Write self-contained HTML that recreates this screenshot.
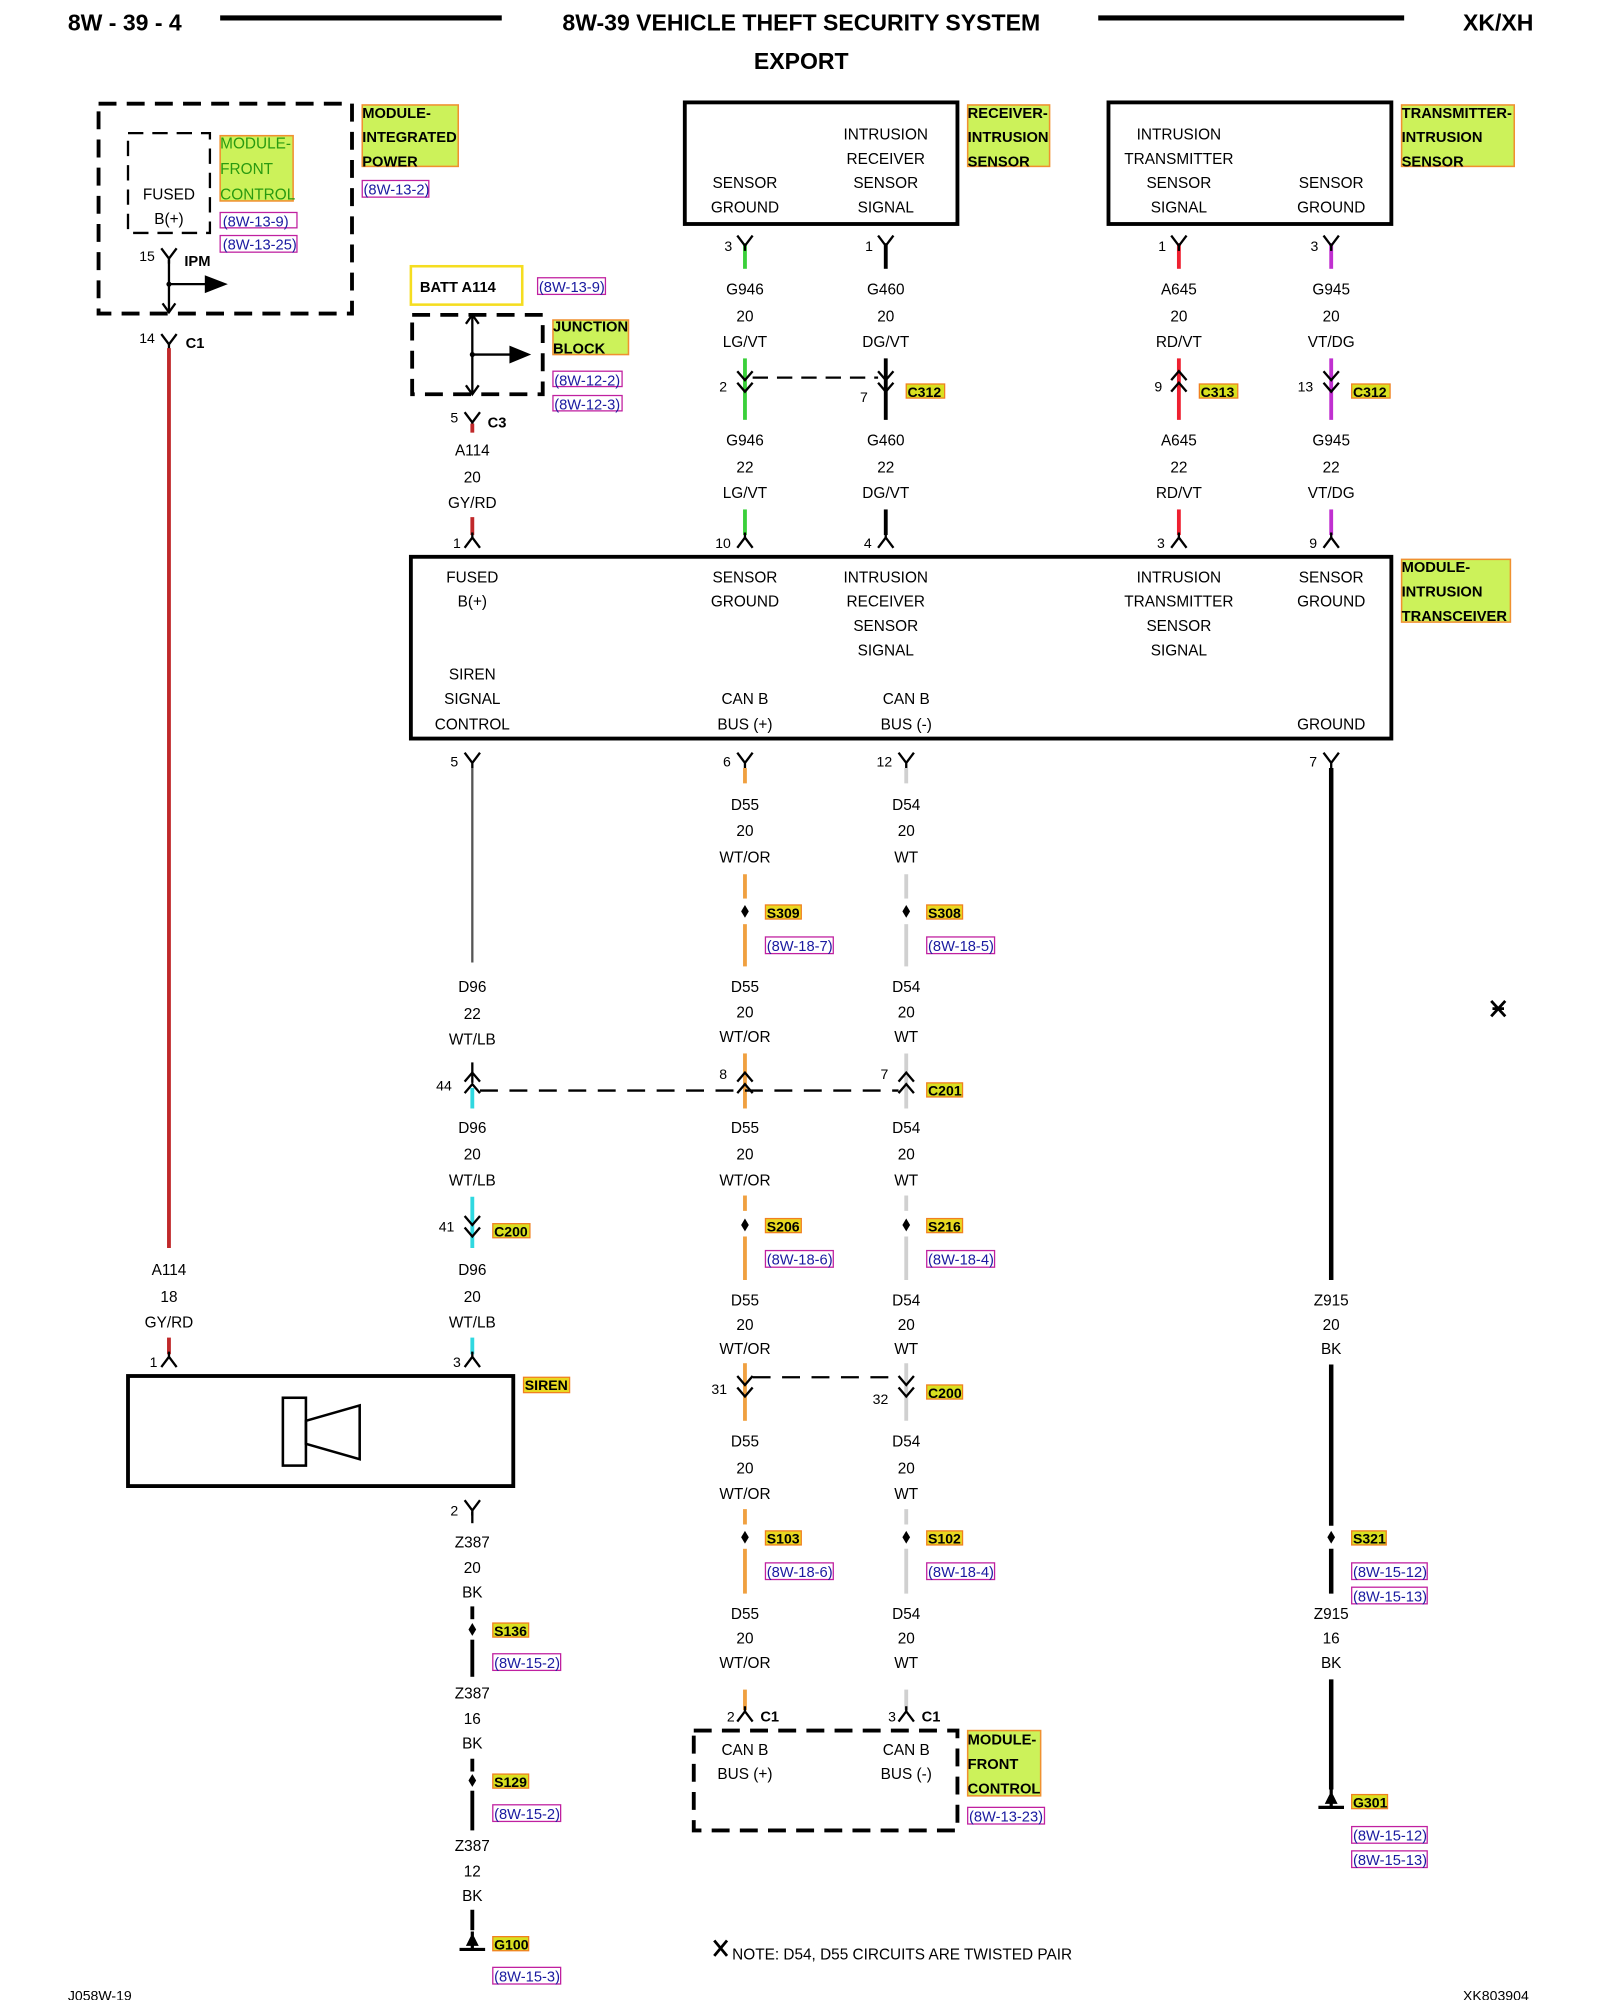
<!DOCTYPE html>
<html><head><meta charset="utf-8"><style>
html,body{margin:0;padding:0;background:#fff}
svg{display:block}
text{font-family:"Liberation Sans",sans-serif;fill:#000}
.t{font-size:12px;text-anchor:middle}
.n{font-size:11px;text-anchor:end}
.h{font-size:18px;font-weight:bold}
.lb{font-size:11.5px;font-weight:bold}
.rf{font-size:11.5px;fill:#1a1aa0}
.tg{font-size:11px;font-weight:bold}
.bx{fill:none;stroke:#000;stroke-width:3}
.ds{fill:none;stroke:#000;stroke-width:3;stroke-dasharray:14 8}
.s{fill:none;stroke:#000;stroke-width:1.8}
</style></head><body>
<svg width="1600" height="2000" viewBox="0 0 1250 1562.5" xmlns="http://www.w3.org/2000/svg">
<defs>
<path id="yT" d="M-6,-9 L0,-1 L6,-9 M0,-1 V3" fill="none" stroke="#000" stroke-width="1.8"/>
<path id="yB" d="M0,-4 V1 M-6,8 L0,0 L6,8" fill="none" stroke="#000" stroke-width="1.8"/>
<path id="cD" d="M-6,-7 L0,0 L6,-7 M-6,2 L0,9 L6,2" fill="none" stroke="#000" stroke-width="1.8"/>
<path id="cU" d="M-6,0 L0,-7 L6,0 M-6,9 L0,2 L6,9" fill="none" stroke="#000" stroke-width="1.8"/>
<path id="sp" d="M0,-5 L3,0 L0,5 L-3,0 Z" fill="#000"/>
<path id="gnd" d="M-10,6 H10 M0,-8 V6 M-3,2 L0,-4 L3,2 Z" fill="#000" stroke="#000" stroke-width="2.5"/>
</defs>

<!-- header -->
<text class="h" x="53" y="24">8W - 39 - 4</text>
<line x1="172" y1="14" x2="392" y2="14" stroke="#000" stroke-width="4"/>
<text class="h" x="626" y="24" text-anchor="middle">8W-39 VEHICLE THEFT SECURITY SYSTEM</text>
<text class="h" x="626" y="54" text-anchor="middle">EXPORT</text>
<line x1="858" y1="14" x2="1097" y2="14" stroke="#000" stroke-width="4"/>
<text class="h" x="1143" y="24">XK/XH</text>

<!-- IPM -->
<rect class="ds" x="77" y="81" width="198" height="164"/>
<rect x="100" y="104" width="64" height="78" fill="none" stroke="#000" stroke-width="1.8" stroke-dasharray="12 7"/>
<text class="t" x="132" y="156">FUSED</text>
<text class="t" x="132" y="175">B(+)</text>
<rect x="172" y="106" width="57" height="51" fill="#ccf25a" stroke="#f09030" stroke-width="1.2"/>
<text class="t" x="172" y="116" style="text-anchor:start;fill:#2a9a10">MODULE-</text>
<text class="t" x="172" y="136" style="text-anchor:start;fill:#2a9a10">FRONT</text>
<text class="t" x="172" y="156" style="text-anchor:start;fill:#2a9a10">CONTROL</text>
<rect x="172" y="166" width="60" height="12" fill="none" stroke="#c020a0"/><text class="rf" x="174" y="177">(8W-13-9)</text>
<rect x="172" y="184" width="60" height="13" fill="none" stroke="#c020a0"/><text class="rf" x="174" y="195">(8W-13-25)</text>
<rect x="283" y="82" width="75" height="48" fill="#ccf25a" stroke="#f09030" stroke-width="1.2"/>
<text class="lb" x="283" y="92">MODULE-</text><text class="lb" x="283" y="111">INTEGRATED</text><text class="lb" x="283" y="130">POWER</text>
<rect x="283" y="141" width="52" height="13" fill="none" stroke="#c020a0"/><text class="rf" x="284" y="152">(8W-13-2)</text>
<use href="#yT" x="132" y="203"/><text class="n" x="121" y="204">15</text>
<text class="lb" x="144" y="208">IPM</text>
<line class="s" x1="132" y1="203" x2="132" y2="244"/>
<path class="s" d="M127,237 L132,244 L137,237"/>
<line class="s" x1="132" y1="222" x2="162" y2="222"/>
<path d="M160,215 L178,222 L160,229 Z"/>
<circle cx="132" cy="222" r="2"/>
<use href="#yT" x="132" y="270"/><text class="n" x="121" y="268">14</text><text class="lb" x="145" y="272">C1</text>
<line x1="132" y1="272" x2="132" y2="975" stroke="#c0282a" stroke-width="3"/>
<text class="t" x="132" y="996">A114</text><text class="t" x="132" y="1017">18</text><text class="t" x="132" y="1037">GY/RD</text>
<line x1="132" y1="1045" x2="132" y2="1058" stroke="#c0282a" stroke-width="3"/>
<use href="#yB" x="132" y="1060"/><text class="n" x="123" y="1068">1</text>

<!-- junction block -->
<rect x="321" y="208" width="87" height="30" fill="none" stroke="#f5dd20" stroke-width="2"/>
<text class="lb" x="328" y="228">BATT A114</text>
<rect x="420" y="217" width="53" height="13" fill="none" stroke="#c020a0"/><text class="rf" x="421" y="228">(8W-13-9)</text>
<rect class="ds" x="322" y="246" width="102" height="62"/>
<line class="s" x1="369" y1="246" x2="369" y2="308"/>
<path class="s" d="M364,253 L369,246 L374,253 M364,301 L369,308 L374,301"/>
<line class="s" x1="369" y1="277" x2="400" y2="277"/>
<path d="M398,270 L415,277 L398,284 Z"/><circle cx="369" cy="277" r="2"/>
<rect x="432" y="250" width="59" height="27" fill="#ccf25a" stroke="#f09030" stroke-width="1.2"/>
<text class="lb" x="432" y="259">JUNCTION</text><text class="lb" x="432" y="276">BLOCK</text>
<rect x="432" y="290" width="54" height="12" fill="none" stroke="#c020a0"/><text class="rf" x="433" y="301">(8W-12-2)</text>
<rect x="432" y="309" width="54" height="12" fill="none" stroke="#c020a0"/><text class="rf" x="433" y="320">(8W-12-3)</text>
<use href="#yT" x="369" y="331"/><line x1="369" y1="331" x2="369" y2="338" stroke="#c0282a" stroke-width="3"/>
<text class="n" x="358" y="330">5</text><text class="lb" x="381" y="334">C3</text>
<text class="t" x="369" y="356">A114</text><text class="t" x="369" y="377">20</text><text class="t" x="369" y="397">GY/RD</text>
<line x1="369" y1="404" x2="369" y2="418" stroke="#c0282a" stroke-width="3"/>
<use href="#yB" x="369" y="420"/><text class="n" x="360" y="428">1</text>

<!-- receiver sensor -->
<rect class="bx" x="535" y="80" width="213" height="95"/>
<text class="t" x="692" y="109">INTRUSION</text><text class="t" x="692" y="128">RECEIVER</text><text class="t" x="692" y="147">SENSOR</text><text class="t" x="692" y="166">SIGNAL</text>
<text class="t" x="582" y="147">SENSOR</text><text class="t" x="582" y="166">GROUND</text>
<rect x="756" y="82" width="64" height="48" fill="#ccf25a" stroke="#f09030" stroke-width="1.2"/>
<text class="lb" x="756" y="92">RECEIVER-</text><text class="lb" x="756" y="111">INTRUSION</text><text class="lb" x="756" y="130">SENSOR</text>
<!-- transmitter -->
<rect class="bx" x="866" y="80" width="221" height="95"/>
<text class="t" x="921" y="109">INTRUSION</text><text class="t" x="921" y="128">TRANSMITTER</text><text class="t" x="921" y="147">SENSOR</text><text class="t" x="921" y="166">SIGNAL</text>
<text class="t" x="1040" y="147">SENSOR</text><text class="t" x="1040" y="166">GROUND</text>
<rect x="1095" y="82" width="88" height="48" fill="#ccf25a" stroke="#f09030" stroke-width="1.2"/>
<text class="lb" x="1095" y="92">TRANSMITTER-</text><text class="lb" x="1095" y="111">INTRUSION</text><text class="lb" x="1095" y="130">SENSOR</text>

<!-- sensor wires -->
<g>
<line x1="582" y1="190" x2="582" y2="210" stroke="#3ad03a" stroke-width="3"/>
<line x1="692" y1="190" x2="692" y2="210" stroke="#000" stroke-width="3"/>
<line x1="921" y1="190" x2="921" y2="210" stroke="#ee2030" stroke-width="3"/>
<line x1="1040" y1="190" x2="1040" y2="210" stroke="#c030d0" stroke-width="3"/>
<use href="#yT" x="582" y="193"/><use href="#yT" x="692" y="193"/><use href="#yT" x="921" y="193"/><use href="#yT" x="1040" y="193"/>
<text class="n" x="572" y="196">3</text><text class="n" x="682" y="196">1</text><text class="n" x="911" y="196">1</text><text class="n" x="1030" y="196">3</text>
<text class="t" x="582" y="230">G946</text><text class="t" x="582" y="251">20</text><text class="t" x="582" y="271">LG/VT</text>
<text class="t" x="692" y="230">G460</text><text class="t" x="692" y="251">20</text><text class="t" x="692" y="271">DG/VT</text>
<text class="t" x="921" y="230">A645</text><text class="t" x="921" y="251">20</text><text class="t" x="921" y="271">RD/VT</text>
<text class="t" x="1040" y="230">G945</text><text class="t" x="1040" y="251">20</text><text class="t" x="1040" y="271">VT/DG</text>
<line x1="582" y1="280" x2="582" y2="328" stroke="#3ad03a" stroke-width="3"/>
<line x1="692" y1="280" x2="692" y2="328" stroke="#000" stroke-width="3"/>
<line x1="921" y1="280" x2="921" y2="328" stroke="#ee2030" stroke-width="3"/>
<line x1="1040" y1="280" x2="1040" y2="328" stroke="#c030d0" stroke-width="3"/>
<use href="#cD" x="582" y="297"/><use href="#cD" x="692" y="297"/><use href="#cU" x="921" y="297"/><use href="#cD" x="1040" y="297"/>
<line x1="588" y1="295" x2="686" y2="295" stroke="#000" stroke-width="1.8" stroke-dasharray="12 7"/>
<text class="n" x="568" y="306">2</text><text class="n" x="678" y="314">7</text><text class="n" x="908" y="306">9</text><text class="n" x="1026" y="306">13</text>
<rect x="708" y="300" width="30" height="11" fill="#d8e020" stroke="#f08020"/><text class="tg" x="709" y="310">C312</text>
<rect x="937" y="300" width="30" height="11" fill="#d8e020" stroke="#f08020"/><text class="tg" x="938" y="310">C313</text>
<rect x="1056" y="300" width="30" height="11" fill="#d8e020" stroke="#f08020"/><text class="tg" x="1057" y="310">C312</text>
<text class="t" x="582" y="348">G946</text><text class="t" x="582" y="369">22</text><text class="t" x="582" y="389">LG/VT</text>
<text class="t" x="692" y="348">G460</text><text class="t" x="692" y="369">22</text><text class="t" x="692" y="389">DG/VT</text>
<text class="t" x="921" y="348">A645</text><text class="t" x="921" y="369">22</text><text class="t" x="921" y="389">RD/VT</text>
<text class="t" x="1040" y="348">G945</text><text class="t" x="1040" y="369">22</text><text class="t" x="1040" y="389">VT/DG</text>
<line x1="582" y1="398" x2="582" y2="418" stroke="#3ad03a" stroke-width="3"/>
<line x1="692" y1="398" x2="692" y2="418" stroke="#000" stroke-width="3"/>
<line x1="921" y1="398" x2="921" y2="418" stroke="#ee2030" stroke-width="3"/>
<line x1="1040" y1="398" x2="1040" y2="418" stroke="#c030d0" stroke-width="3"/>
<use href="#yB" x="582" y="420"/><use href="#yB" x="692" y="420"/><use href="#yB" x="921" y="420"/><use href="#yB" x="1040" y="420"/>
<text class="n" x="571" y="428">10</text><text class="n" x="681" y="428">4</text><text class="n" x="910" y="428">3</text><text class="n" x="1029" y="428">9</text>
</g>

<!-- transceiver -->
<rect class="bx" x="321" y="435" width="766" height="142"/>
<text class="t" x="369" y="455">FUSED</text><text class="t" x="369" y="474">B(+)</text>
<text class="t" x="582" y="455">SENSOR</text><text class="t" x="582" y="474">GROUND</text>
<text class="t" x="692" y="455">INTRUSION</text><text class="t" x="692" y="474">RECEIVER</text><text class="t" x="692" y="493">SENSOR</text><text class="t" x="692" y="512">SIGNAL</text>
<text class="t" x="921" y="455">INTRUSION</text><text class="t" x="921" y="474">TRANSMITTER</text><text class="t" x="921" y="493">SENSOR</text><text class="t" x="921" y="512">SIGNAL</text>
<text class="t" x="1040" y="455">SENSOR</text><text class="t" x="1040" y="474">GROUND</text>
<text class="t" x="369" y="531">SIREN</text><text class="t" x="369" y="550">SIGNAL</text><text class="t" x="369" y="570">CONTROL</text>
<text class="t" x="582" y="550">CAN B</text><text class="t" x="582" y="570">BUS (+)</text>
<text class="t" x="708" y="550">CAN B</text><text class="t" x="708" y="570">BUS (-)</text>
<text class="t" x="1040" y="570">GROUND</text>
<rect x="1095" y="437" width="85" height="49" fill="#ccf25a" stroke="#f09030" stroke-width="1.2"/>
<text class="lb" x="1095" y="447">MODULE-</text><text class="lb" x="1095" y="466">INTRUSION</text><text class="lb" x="1095" y="485">TRANSCEIVER</text>

<!-- lower pins -->
<use href="#yT" x="369" y="597"/><use href="#yT" x="582" y="597"/><use href="#yT" x="708" y="597"/><use href="#yT" x="1040" y="597"/>
<text class="n" x="358" y="599">5</text><text class="n" x="571" y="599">6</text><text class="n" x="697" y="599">12</text><text class="n" x="1029" y="599">7</text>

<!-- siren column -->
<line x1="369" y1="600" x2="369" y2="752" stroke="#555" stroke-width="1.8"/>
<text class="t" x="369" y="775">D96</text><text class="t" x="369" y="796">22</text><text class="t" x="369" y="816">WT/LB</text>
<line x1="369" y1="830" x2="369" y2="846" stroke="#000" stroke-width="1.8"/>
<line x1="369" y1="850" x2="369" y2="866" stroke="#30d8e0" stroke-width="3"/>
<use href="#cU" x="369" y="845"/><text class="n" x="353" y="852">44</text>
<text class="t" x="369" y="885">D96</text><text class="t" x="369" y="906">20</text><text class="t" x="369" y="926">WT/LB</text>
<line x1="369" y1="935" x2="369" y2="975" stroke="#30d8e0" stroke-width="3"/>
<use href="#cD" x="369" y="957"/><text class="n" x="355" y="962">41</text>
<rect x="385" y="956" width="29" height="11" fill="#d8e020" stroke="#f08020"/><text class="tg" x="386" y="966">C200</text>
<text class="t" x="369" y="996">D96</text><text class="t" x="369" y="1017">20</text><text class="t" x="369" y="1037">WT/LB</text>
<line x1="369" y1="1045" x2="369" y2="1058" stroke="#30d8e0" stroke-width="3"/>
<use href="#yB" x="369" y="1060"/><text class="n" x="360" y="1068">3</text>
<rect class="bx" x="100" y="1075" width="301" height="86"/>
<rect x="221" y="1092" width="18" height="53" fill="none" stroke="#000" stroke-width="2"/>
<path d="M239,1110 L281,1098 L281,1140 L239,1128 Z" fill="none" stroke="#000" stroke-width="2"/>
<rect x="409" y="1076" width="36" height="12" fill="#e8d820" stroke="#f08020"/><text class="tg" x="410" y="1086">SIREN</text>
<use href="#yT" x="369" y="1181"/><line class="s" x1="369" y1="1181" x2="369" y2="1190"/><text class="n" x="358" y="1184">2</text>
<text class="t" x="369" y="1209">Z387</text><text class="t" x="369" y="1229">20</text><text class="t" x="369" y="1248">BK</text>
<line x1="369" y1="1255" x2="369" y2="1265" stroke="#000" stroke-width="3"/>
<use href="#sp" x="369" y="1273"/>
<line x1="369" y1="1281" x2="369" y2="1310" stroke="#000" stroke-width="3"/>
<rect x="385" y="1268" width="28" height="11" fill="#d8e020" stroke="#f08020"/><text class="tg" x="386" y="1278">S136</text>
<rect x="385" y="1292" width="53" height="13" fill="none" stroke="#c020a0"/><text class="rf" x="386" y="1303">(8W-15-2)</text>
<text class="t" x="369" y="1327">Z387</text><text class="t" x="369" y="1347">16</text><text class="t" x="369" y="1366">BK</text>
<line x1="369" y1="1374" x2="369" y2="1384" stroke="#000" stroke-width="3"/>
<use href="#sp" x="369" y="1391"/>
<line x1="369" y1="1399" x2="369" y2="1430" stroke="#000" stroke-width="3"/>
<rect x="385" y="1386" width="28" height="11" fill="#d8e020" stroke="#f08020"/><text class="tg" x="386" y="1396">S129</text>
<rect x="385" y="1410" width="53" height="13" fill="none" stroke="#c020a0"/><text class="rf" x="386" y="1421">(8W-15-2)</text>
<text class="t" x="369" y="1446">Z387</text><text class="t" x="369" y="1466">12</text><text class="t" x="369" y="1485">BK</text>
<line x1="369" y1="1492" x2="369" y2="1508" stroke="#000" stroke-width="3"/>
<use href="#gnd" x="369" y="1517"/>
<rect x="385" y="1513" width="28" height="11" fill="#d8e020" stroke="#f08020"/><text class="tg" x="386" y="1523">G100</text>
<rect x="385" y="1537" width="53" height="13" fill="none" stroke="#c020a0"/><text class="rf" x="386" y="1548">(8W-15-3)</text>

<!-- CAN columns -->
<g id="canp">
<line x1="582" y1="600" x2="582" y2="612" stroke="#f0a040" stroke-width="3"/>
<line x1="708" y1="600" x2="708" y2="612" stroke="#d0d0d0" stroke-width="3"/>
<text class="t" x="582" y="633">D55</text><text class="t" x="582" y="653">20</text><text class="t" x="582" y="674">WT/OR</text>
<text class="t" x="708" y="633">D54</text><text class="t" x="708" y="653">20</text><text class="t" x="708" y="674">WT</text>
<line x1="582" y1="683" x2="582" y2="702" stroke="#f0a040" stroke-width="3"/>
<line x1="708" y1="683" x2="708" y2="702" stroke="#d0d0d0" stroke-width="3"/>
<use href="#sp" x="582" y="712"/><use href="#sp" x="708" y="712"/>
<line x1="582" y1="722" x2="582" y2="755" stroke="#f0a040" stroke-width="3"/>
<line x1="708" y1="722" x2="708" y2="755" stroke="#d0d0d0" stroke-width="3"/>
<rect x="598" y="707" width="28" height="11" fill="#e8d820" stroke="#f08020"/><text class="tg" x="599" y="717">S309</text>
<rect x="724" y="707" width="28" height="11" fill="#e8d820" stroke="#f08020"/><text class="tg" x="725" y="717">S308</text>
<rect x="598" y="732" width="53" height="13" fill="none" stroke="#c020a0"/><text class="rf" x="599" y="743">(8W-18-7)</text>
<rect x="724" y="732" width="53" height="13" fill="none" stroke="#c020a0"/><text class="rf" x="725" y="743">(8W-18-5)</text>
<text class="t" x="582" y="775">D55</text><text class="t" x="582" y="795">20</text><text class="t" x="582" y="814">WT/OR</text>
<text class="t" x="708" y="775">D54</text><text class="t" x="708" y="795">20</text><text class="t" x="708" y="814">WT</text>
<line x1="582" y1="823" x2="582" y2="866" stroke="#f0a040" stroke-width="3"/>
<line x1="708" y1="823" x2="708" y2="866" stroke="#d0d0d0" stroke-width="3"/>
<use href="#cU" x="582" y="845"/><use href="#cU" x="708" y="845"/>
<line x1="375" y1="852" x2="702" y2="852" stroke="#000" stroke-width="1.8" stroke-dasharray="14 9"/>
<text class="n" x="568" y="843">8</text><text class="n" x="694" y="843">7</text>
<rect x="724" y="846" width="28" height="11" fill="#d8e020" stroke="#f08020"/><text class="tg" x="725" y="856">C201</text>
<text class="t" x="582" y="885">D55</text><text class="t" x="582" y="906">20</text><text class="t" x="582" y="926">WT/OR</text>
<text class="t" x="708" y="885">D54</text><text class="t" x="708" y="906">20</text><text class="t" x="708" y="926">WT</text>
<line x1="582" y1="934" x2="582" y2="946" stroke="#f0a040" stroke-width="3"/>
<line x1="708" y1="934" x2="708" y2="946" stroke="#d0d0d0" stroke-width="3"/>
<use href="#sp" x="582" y="957"/><use href="#sp" x="708" y="957"/>
<line x1="582" y1="966" x2="582" y2="1000" stroke="#f0a040" stroke-width="3"/>
<line x1="708" y1="966" x2="708" y2="1000" stroke="#d0d0d0" stroke-width="3"/>
<rect x="598" y="952" width="28" height="11" fill="#e8d820" stroke="#f08020"/><text class="tg" x="599" y="962">S206</text>
<rect x="724" y="952" width="28" height="11" fill="#e8d820" stroke="#f08020"/><text class="tg" x="725" y="962">S216</text>
<rect x="598" y="977" width="53" height="13" fill="none" stroke="#c020a0"/><text class="rf" x="599" y="988">(8W-18-6)</text>
<rect x="724" y="977" width="53" height="13" fill="none" stroke="#c020a0"/><text class="rf" x="725" y="988">(8W-18-4)</text>
<text class="t" x="582" y="1020">D55</text><text class="t" x="582" y="1039">20</text><text class="t" x="582" y="1058">WT/OR</text>
<text class="t" x="708" y="1020">D54</text><text class="t" x="708" y="1039">20</text><text class="t" x="708" y="1058">WT</text>
<line x1="582" y1="1065" x2="582" y2="1110" stroke="#f0a040" stroke-width="3"/>
<line x1="708" y1="1065" x2="708" y2="1110" stroke="#d0d0d0" stroke-width="3"/>
<use href="#cD" x="582" y="1082"/><use href="#cD" x="708" y="1082"/>
<line x1="588" y1="1076" x2="702" y2="1076" stroke="#000" stroke-width="1.8" stroke-dasharray="14 9"/>
<text class="n" x="568" y="1089">31</text><text class="n" x="694" y="1097">32</text>
<rect x="724" y="1082" width="28" height="11" fill="#d8e020" stroke="#f08020"/><text class="tg" x="725" y="1092">C200</text>
<text class="t" x="582" y="1130">D55</text><text class="t" x="582" y="1151">20</text><text class="t" x="582" y="1171">WT/OR</text>
<text class="t" x="708" y="1130">D54</text><text class="t" x="708" y="1151">20</text><text class="t" x="708" y="1171">WT</text>
<line x1="582" y1="1179" x2="582" y2="1191" stroke="#f0a040" stroke-width="3"/>
<line x1="708" y1="1179" x2="708" y2="1191" stroke="#d0d0d0" stroke-width="3"/>
<use href="#sp" x="582" y="1201"/><use href="#sp" x="708" y="1201"/>
<line x1="582" y1="1210" x2="582" y2="1245" stroke="#f0a040" stroke-width="3"/>
<line x1="708" y1="1210" x2="708" y2="1245" stroke="#d0d0d0" stroke-width="3"/>
<rect x="598" y="1196" width="28" height="11" fill="#e8d820" stroke="#f08020"/><text class="tg" x="599" y="1206">S103</text>
<rect x="724" y="1196" width="28" height="11" fill="#e8d820" stroke="#f08020"/><text class="tg" x="725" y="1206">S102</text>
<rect x="598" y="1221" width="53" height="13" fill="none" stroke="#c020a0"/><text class="rf" x="599" y="1232">(8W-18-6)</text>
<rect x="724" y="1221" width="53" height="13" fill="none" stroke="#c020a0"/><text class="rf" x="725" y="1232">(8W-18-4)</text>
<text class="t" x="582" y="1265">D55</text><text class="t" x="582" y="1284">20</text><text class="t" x="582" y="1303">WT/OR</text>
<text class="t" x="708" y="1265">D54</text><text class="t" x="708" y="1284">20</text><text class="t" x="708" y="1303">WT</text>
<line x1="582" y1="1320" x2="582" y2="1336" stroke="#f0a040" stroke-width="3"/>
<line x1="708" y1="1320" x2="708" y2="1336" stroke="#d0d0d0" stroke-width="3"/>
<use href="#yB" x="582" y="1337"/><use href="#yB" x="708" y="1337"/>
<text class="n" x="574" y="1345">2</text><text class="lb" x="594" y="1345">C1</text>
<text class="n" x="700" y="1345">3</text><text class="lb" x="720" y="1345">C1</text>
</g>
<rect class="ds" x="542" y="1352" width="206" height="78"/>
<text class="t" x="582" y="1371">CAN B</text><text class="t" x="582" y="1390">BUS (+)</text>
<text class="t" x="708" y="1371">CAN B</text><text class="t" x="708" y="1390">BUS (-)</text>
<rect x="756" y="1352" width="57" height="51" fill="#ccf25a" stroke="#f09030" stroke-width="1.2"/>
<text class="lb" x="756" y="1363">MODULE-</text><text class="lb" x="756" y="1382">FRONT</text><text class="lb" x="756" y="1401">CONTROL</text>
<rect x="756" y="1412" width="60" height="13" fill="none" stroke="#c020a0"/><text class="rf" x="757" y="1423">(8W-13-23)</text>

<!-- ground column -->
<line x1="1040" y1="600" x2="1040" y2="1000" stroke="#000" stroke-width="3.5"/>
<text class="t" x="1040" y="1020">Z915</text><text class="t" x="1040" y="1039">20</text><text class="t" x="1040" y="1058">BK</text>
<line x1="1040" y1="1066" x2="1040" y2="1192" stroke="#000" stroke-width="3.5"/>
<use href="#sp" x="1040" y="1201"/>
<line x1="1040" y1="1210" x2="1040" y2="1245" stroke="#000" stroke-width="3.5"/>
<rect x="1056" y="1196" width="27" height="11" fill="#d8e020" stroke="#f08020"/><text class="tg" x="1057" y="1206">S321</text>
<rect x="1056" y="1221" width="59" height="13" fill="none" stroke="#c020a0"/><text class="rf" x="1057" y="1232">(8W-15-12)</text>
<rect x="1056" y="1240" width="59" height="13" fill="none" stroke="#c020a0"/><text class="rf" x="1057" y="1251">(8W-15-13)</text>
<text class="t" x="1040" y="1265">Z915</text><text class="t" x="1040" y="1284">16</text><text class="t" x="1040" y="1303">BK</text>
<line x1="1040" y1="1312" x2="1040" y2="1398" stroke="#000" stroke-width="3.5"/>
<use href="#gnd" x="1040" y="1406"/>
<rect x="1056" y="1402" width="28" height="11" fill="#d8e020" stroke="#f08020"/><text class="tg" x="1057" y="1412">G301</text>
<rect x="1056" y="1427" width="59" height="13" fill="none" stroke="#c020a0"/><text class="rf" x="1057" y="1438">(8W-15-12)</text>
<rect x="1056" y="1446" width="59" height="13" fill="none" stroke="#c020a0"/><text class="rf" x="1057" y="1457">(8W-15-13)</text>

<!-- twist marks / notes -->
<path d="M1165,782 L1176,794 M1176,782 L1165,794 M1166,788 H1175" stroke="#000" stroke-width="2.2"/>
<path d="M558,1516 L568,1528 M568,1516 L558,1528" stroke="#000" stroke-width="2.2"/>
<text x="572" y="1531" style="font-size:12px">NOTE:  D54, D55    CIRCUITS ARE TWISTED PAIR</text>
<text x="53" y="1563" style="font-size:11px">J058W-19</text>
<text x="1143" y="1563" style="font-size:11px">XK803904</text>
</svg>
</body></html>
